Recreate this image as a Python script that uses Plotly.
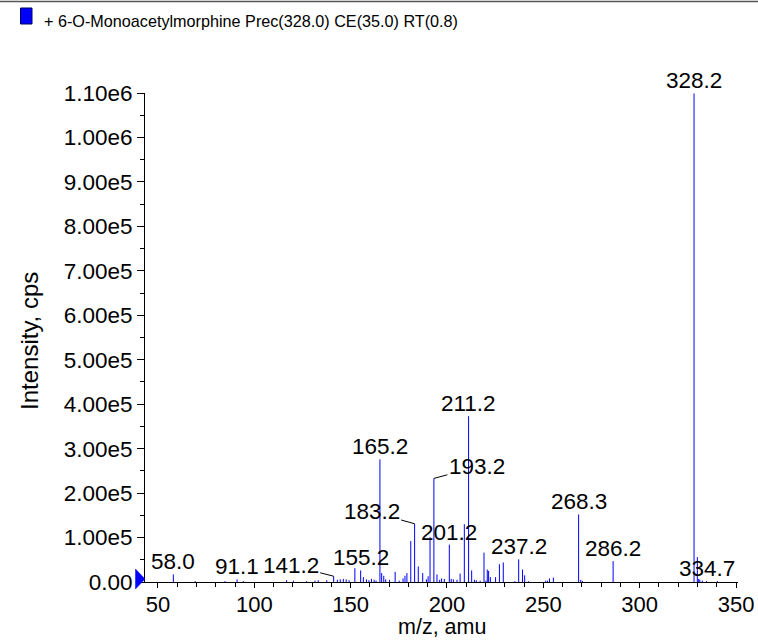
import plotly.graph_objects as go

# ---- data (m/z, intensity in cps) ----
mz = [58.0, 69.3, 84.8, 91.1, 94.3, 116.8, 120.3, 127.2, 131.5, 133.2, 137.6,
      141.2, 143.1, 144.6, 146.2, 147.7, 149.2, 152.2, 155.2, 156.6, 158.2, 159.5,
      160.8, 162.2, 163.2, 165.2, 166.1, 167.2, 168.2, 170.2, 173.1, 175.2, 177.2,
      178.2, 179.2, 181.2, 183.2, 185.1, 187.4, 189.3, 190.2, 191.2, 193.2, 194.8,
      196.2, 197.2, 198.6, 201.2, 202.2, 203.3, 205.2, 206.8, 209.0, 211.2, 212.8,
      214.2, 215.2, 217.2, 219.2, 220.2, 220.9, 221.6, 222.5, 225.2, 227.2, 229.2,
      235.2, 237.2, 239.2, 240.3, 242.2, 251.2, 252.2, 253.2, 255.2, 268.3, 269.4,
      270.3, 286.2, 328.2, 329.9, 330.6, 331.2, 332.5, 334.7, 340.3]
intensity = [17000, 2000, 2000, 6000, 2000, 4000, 3000, 2000, 3000, 4000, 4000,
             13000, 5000, 6000, 7000, 6000, 4000, 31000, 26000, 11000, 6000, 4000,
             7000, 5000, 3000, 276000, 20000, 14000, 6000, 5000, 23000, 3000, 8000,
             14000, 20000, 92000, 131000, 35000, 20000, 6000, 13000, 101000, 233000, 17000,
             5000, 8000, 7000, 84000, 7000, 6000, 5000, 19000, 130000, 373000, 26000,
             5000, 4000, 3000, 66000, 3000, 28000, 25000, 11000, 11000, 40000, 44000,
             2000, 51000, 28000, 15000, 2000, 3000, 3000, 8000, 10000, 152000, 5000,
             2000, 47000, 1099000, 56000, 7000, 5000, 3000, 2000, 2000]

label_mz = [58.0, 91.1, 141.2, 155.2, 165.2, 183.2, 193.2, 201.2, 211.2, 237.2,
            268.3, 286.2, 328.2, 334.7]
label_text = ["58.0", "91.1", "141.2", "155.2", "165.2", "183.2", "193.2", "201.2",
              "211.2", "237.2", "268.3", "286.2", "328.2", "334.7"]
# labels drawn with a leader line: (dx, dy) pixel offsets
leader = {"141.2": (-43, -11), "183.2": (-43, -12), "193.2": (43, -11.5)}

y_ticks = [0, 1e5, 2e5, 3e5, 4e5, 5e5, 6e5, 7e5, 8e5, 9e5, 1e6, 1.1e6]
y_tick_text = ["0.00", "1.00e5", "2.00e5", "3.00e5", "4.00e5", "5.00e5", "6.00e5",
               "7.00e5", "8.00e5", "9.00e5", "1.00e6", "1.10e6"]
x_ticks = [50, 100, 150, 200, 250, 300, 350]

title_text = "+ 6-O-Monoacetylmorphine Prec(328.0) CE(35.0) RT(0.8)"

FONT = "Liberation Sans, Arial, sans-serif"

# ---- figure ----
xs, ys = [], []
for m, h in zip(mz, intensity):
    xs += [m, m, None]
    ys += [0, h, None]

fig = go.Figure()
fig.add_trace(go.Scatter(x=xs, y=ys, mode="lines",
                         line=dict(color="#0000ff", width=1),
                         hoverinfo="skip", showlegend=False))

W, H = 758, 640
L, R, T, B = 145, 20, 93, 58
PW, PH = W - L - R, H - T - B

def px(xp):
    return (xp - L) / PW

def py(yp):
    return (H - B - yp) / PH

annotations = []
inten_map = dict(zip(mz, intensity))
for m, t in zip(label_mz, label_text):
    h = inten_map.get(m, 0)
    if t in leader:
        dx, dy = leader[t]
        annotations.append(dict(x=m, y=h, xref="x", yref="y", text=t,
                                showarrow=True, arrowhead=0, arrowwidth=1,
                                arrowcolor="black", ax=dx, ay=dy, standoff=0,
                                font=dict(family=FONT, size=22.5, color="black")))
    else:
        annotations.append(dict(x=m, y=h, xref="x", yref="y", text=t,
                                showarrow=False, yanchor="middle", yshift=12.5,
                                font=dict(family=FONT, size=22.5, color="black")))

# legend-like header text
annotations.append(dict(x=px(42), y=py(20.5), xref="paper", yref="paper",
                        text=title_text, showarrow=False, xanchor="left",
                        yanchor="middle",
                        font=dict(family=FONT, size=16.2, color="black")))
# axis titles
annotations.append(dict(x=0.5, y=py(640), xref="paper", yref="paper",
                        text="m/z, amu", showarrow=False, yanchor="bottom",
                        borderpad=0,
                        font=dict(family=FONT, size=21.5, color="black")))
annotations.append(dict(x=px(29), y=py(341), xref="paper", yref="paper",
                        text="Intensity, cps", showarrow=False, textangle=-90,
                        xanchor="center", yanchor="middle",
                        font=dict(family=FONT, size=24, color="black")))

shapes = [
    # top rule
    dict(type="line", xref="paper", yref="paper", x0=px(0), x1=px(W),
         y0=py(1.5), y1=py(1.5), line=dict(color="#555555", width=1.5)),
    # legend swatch
    dict(type="rect", xref="paper", yref="paper", x0=px(20.5), x1=px(32),
         y0=py(24), y1=py(8), fillcolor="#0000ff",
         line=dict(color="#000060", width=1)),
    # blue triangle marker at origin (paper refs so it is not clipped)
    dict(type="path", xref="paper", yref="paper", xsizemode="pixel", ysizemode="pixel",
         xanchor=0, yanchor=0, path="M -9.5,13 L -9.5,-7 L 0,3 Z",
         fillcolor="#0000ff", line=dict(color="#0000ff", width=0.5)),
]

fig.update_layout(
    width=W, height=H,
    margin=dict(l=L, r=R, t=T, b=B, autoexpand=False),
    paper_bgcolor="white", plot_bgcolor="white",
    showlegend=False,
    annotations=annotations,
    shapes=shapes,
    xaxis=dict(range=[43.3, 351.0], tickvals=x_ticks, ticks="outside",
               ticklen=5, tickwidth=1, tickcolor="black",
               ticklabelstandoff=-2,
               showline=True, linecolor="black", linewidth=1,
               showgrid=False, zeroline=False,
               tickfont=dict(family=FONT, size=22, color="black"),
               minor=dict(dtick=10, tick0=0, ticks="outside", ticklen=3.5,
                          tickcolor="black", showgrid=False)),
    yaxis=dict(range=[0, 1.1e6], tickvals=y_ticks, ticktext=y_tick_text,
               ticks="outside", ticklen=7, tickwidth=1, tickcolor="black",
               showline=True, linecolor="black", linewidth=1,
               showgrid=False, zeroline=False,
               tickfont=dict(family=FONT, size=22.5, color="black"),
               minor=dict(dtick=5e4, tick0=0, ticks="outside", ticklen=4,
                          tickcolor="black", showgrid=False)),
)

fig.write_html("out.html")
